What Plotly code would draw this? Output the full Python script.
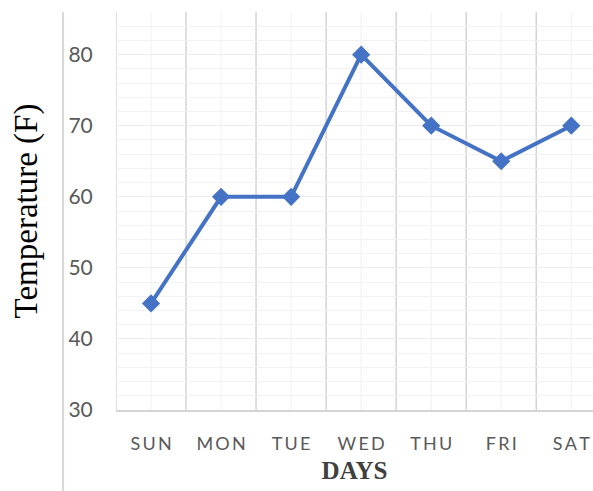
import plotly.graph_objects as go

# data
days = ["SUN", "MON", "TUE", "WED", "THU", "FRI", "SAT"]
day_labels = ["S\u2009U\u2009N", "M\u2009O\u2009N", "T\u2009U\u2009E", "W\u2009E\u2009D",
              "T\u2009H\u2009U", "F\u2009R\u2009I", "S\u2009A\u2009T"]
temps = [45, 60, 60, 80, 70, 65, 70]
y_ticks = [30, 40, 50, 60, 70, 80]

blue = "#4472C4"

fig = go.Figure()
fig.add_trace(go.Scatter(
    x=list(range(len(days))), y=temps, mode="lines+markers",
    line=dict(color=blue, width=4),
    marker=dict(symbol="diamond", size=14, color=blue),
    showlegend=False, cliponaxis=False))

# vertical grid lines between categories (excel style)
for k in range(len(days)):
    fig.add_vline(x=k - 0.5, line=dict(color="#d4d4d4", width=1.5), layer="below")
    fig.add_vline(x=k, line=dict(color="#f0f0f0", width=1), layer="below")

# page border line on the left
fig.add_shape(type="line", xref="paper", yref="paper",
              x0=-0.111, x1=-0.111, y0=-0.21, y1=1.0,
              line=dict(color="#d9d9d9", width=2))

fig.update_layout(
    width=593, height=491,
    margin=dict(l=116, r=0, t=12, b=81, autoexpand=False),
    plot_bgcolor="white", paper_bgcolor="white",
    xaxis=dict(
        range=[-0.5, 6.31], tickmode="array", automargin=False,
        tickvals=list(range(len(days))), ticktext=day_labels,
        showgrid=False, zeroline=False,
        showline=True, linecolor="#d4d4d4", linewidth=2,
        ticks="outside", ticklen=16, tickcolor="rgba(0,0,0,0)",
        tickfont=dict(family="Lato", size=18, color="#595959"),
        title=dict(text="<b>DAYS</b>", standoff=9,
                   font=dict(family="Liberation Serif", size=25, color="#404040")),
    ),
    yaxis=dict(
        range=[30, 86], tickmode="array", tickvals=y_ticks, automargin=False,
        showgrid=True, gridcolor="#ececec", gridwidth=1,
        minor=dict(dtick=2, showgrid=True, gridcolor="#f2f2f2", gridwidth=1),
        zeroline=False,
        ticks="outside", ticklen=18, tickcolor="rgba(0,0,0,0)",
        tickfont=dict(family="Lato", size=21, color="#595959"),
        title=dict(text="Temperature (F)", standoff=20,
                   font=dict(family="Liberation Serif", size=33, color="#000000")),
    ),
)

# drop the browser's default body margin so the figure fills the window
fig.write_html("out.html", config={"displayModeBar": False},
               post_script="document.body.style.margin='0';document.body.style.overflow='hidden';")
